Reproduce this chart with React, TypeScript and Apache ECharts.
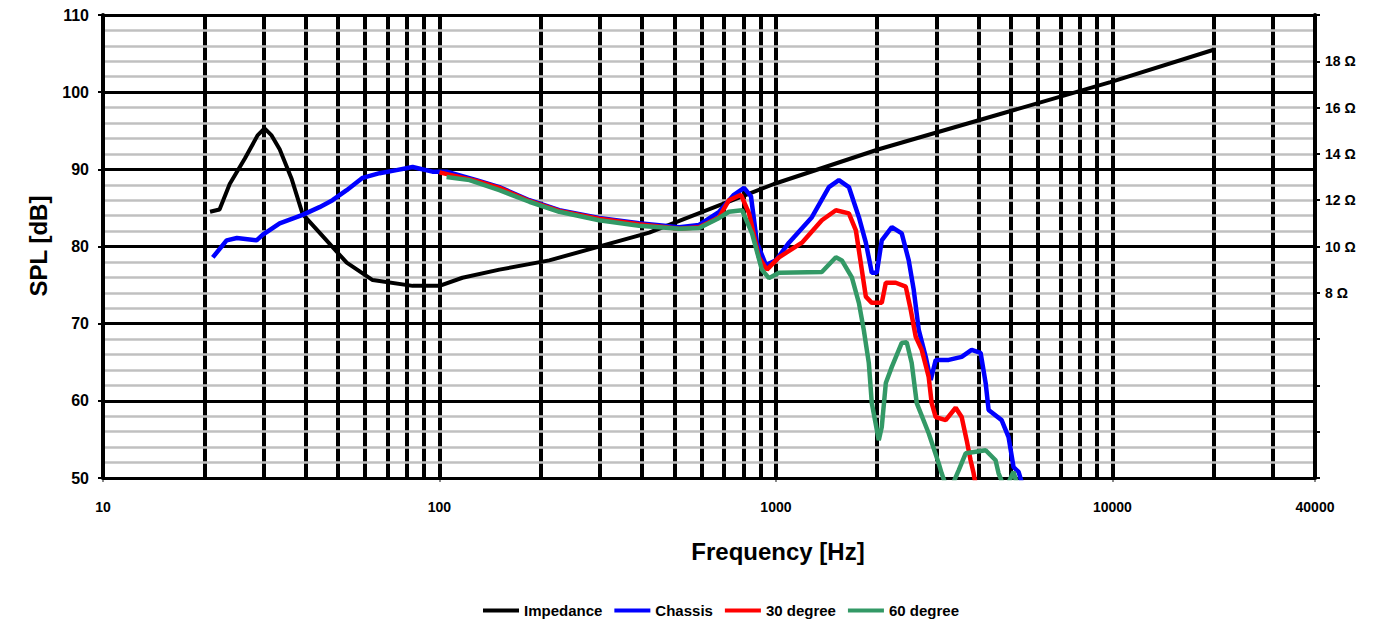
import React, { useEffect, useRef } from "react";
import * as echarts from "echarts";

// ---- data ----
const seriesNames = ["Impedance", "Chassis", "30 degree", "60 degree"];
const seriesColors = ["#000000", "#0000ff", "#ff0000", "#339966"];

const impFreq = [20.8, 22.2, 23.8, 26.4, 28.8, 30.2, 31.7, 33.5, 36.4, 39.2, 44.0, 53.0, 63.3, 83.2, 100, 117, 150.7, 212, 420, 986, 2021, 4588, 9863, 20000];
const impOhm = [11.5, 11.6, 12.7, 13.8, 14.8, 15.1, 14.8, 14.2, 12.9, 11.4, 10.6, 9.3, 8.55, 8.3, 8.3, 8.65, 9.0, 9.4, 10.6, 12.7, 14.2, 15.7, 17.1, 18.5];

const chFreq = [21.2, 23.3, 25.0, 28.6, 29.8, 33.5, 39.2, 44.0, 48.1, 53.0, 59.1, 66.4, 74.5, 83.2, 95.3, 105, 128.8, 150.7, 185, 227, 298, 392, 516, 591, 678, 750, 804, 843, 878, 934, 1000, 1093, 1279, 1437, 1538, 1647, 1764, 1850, 1927, 1994, 2063, 2210, 2365, 2481, 2567, 2657, 2787, 2884, 2984, 3262, 3564, 3815, 4058, 4200, 4286, 4685, 4913, 5083, 5262, 5500];
const chSpl = [78.6, 80.8, 81.1, 80.8, 81.5, 83.0, 84.1, 85.1, 86.0, 87.3, 88.9, 89.5, 89.9, 90.3, 89.7, 89.7, 88.6, 87.7, 86.0, 84.7, 83.7, 83.0, 82.5, 82.8, 84.5, 86.7, 87.6, 86.5, 80.5, 77.6, 78.2, 80.5, 83.8, 87.7, 88.6, 87.7, 83.8, 80.5, 76.6, 76.6, 80.8, 82.5, 81.7, 78.2, 74.4, 69.2, 65.7, 62.7, 65.3, 65.3, 65.7, 66.6, 66.2, 62.3, 58.8, 57.5, 55.3, 51.4, 50.8, 48];

const d30Freq = [100, 128.8, 150.7, 185, 227, 298, 392, 516, 591, 678, 725, 787, 832, 890, 940, 1021, 1195, 1369, 1507, 1647, 1728, 1764, 1850, 1927, 2063, 2121, 2270, 2431, 2515, 2603, 2712, 2844, 2903, 2984, 3195, 3421, 3564, 3688, 3789, 3868, 4000];
const d30Spl = [89.6, 88.5, 87.6, 85.9, 84.6, 83.6, 82.9, 82.3, 82.5, 83.8, 86.0, 86.7, 84.3, 78.6, 77.0, 78.6, 80.5, 83.4, 84.7, 84.3, 82.1, 79.5, 73.5, 72.7, 72.7, 75.3, 75.3, 74.8, 71.8, 68.3, 66.6, 63.1, 59.7, 57.9, 57.5, 59.1, 57.9, 54.9, 52.3, 50.6, 47];

const d60Freq = [105, 122.8, 150.7, 185, 227, 298, 392, 516, 591, 678, 725, 793, 849, 908, 953, 1021, 1369, 1507, 1570, 1681, 1764, 1824, 1888, 1927, 2021, 2063, 2121, 2210, 2365, 2447, 2532, 2621, 2844, 3046, 3108, 3262, 3491, 3663, 4200, 4495, 4588, 4800, 5083, 5300];
const d60Spl = [89.0, 88.6, 87.3, 85.8, 84.5, 83.4, 82.7, 82.3, 82.4, 83.7, 84.5, 84.7, 81.7, 77.0, 75.9, 76.6, 76.7, 78.6, 78.2, 76.0, 72.7, 69.2, 64.9, 59.7, 54.9, 56.6, 62.3, 64.4, 67.5, 67.6, 64.9, 59.7, 55.8, 51.9, 50.6, 48, 51.0, 53.2, 53.6, 52.3, 50.6, 48.5, 50.8, 48];

// vertical grid lines at every log division
const gridFreqs = [20, 30, 40, 50, 60, 70, 80, 90, 100, 200, 300, 400, 500, 600, 700, 800, 900, 1000, 2000, 3000, 4000, 5000, 6000, 7000, 8000, 9000, 10000, 20000, 30000];

const xMin = 10;
const xMax = 40000;
const splMin = 50;
const splMax = 110;
const ohmMin = 0;
const ohmMax = 20;
const ohmLabelled = [8, 10, 12, 14, 16, 18];

const FONT = "'Liberation Sans', Arial, sans-serif";

function zip(xs: number[], ys: number[]) {
  return xs.map((x, i) => [x, ys[i]]);
}

export default function App() {
  const ref = useRef<HTMLDivElement>(null);
  useEffect(() => {
    document.body.style.margin = "0";
    const chart = echarts.init(ref.current!, null, { renderer: "svg" });
    const lineSeries = (idx: number, data: number[][], yAxisIndex: number, width: number) => ({
      name: seriesNames[idx],
      type: "line",
      data,
      yAxisIndex,
      symbol: "none",
      showSymbol: false,
      smooth: false,
      z: 5,
      lineStyle: { color: seriesColors[idx], width },
      itemStyle: { color: seriesColors[idx] },
      clip: true,
    });
    const chassis: any = lineSeries(1, zip(chFreq, chSpl), 0, 4.5);
    chassis.markLine = {
      silent: true,
      z: 1,
      symbol: ["none", "none"],
      label: { show: false },
      lineStyle: { color: "#000", width: 4, type: "solid" },
      emphasis: { disabled: true },
      data: gridFreqs.map((f) => ({ xAxis: f })),
    };
    chart.setOption({
      animation: false,
      backgroundColor: "#ffffff",
      textStyle: { fontFamily: FONT },
      grid: { left: 103, right: 83, top: 15, bottom: 155, containLabel: false },
      legend: {
        data: seriesNames,
        left: 478,
        top: 598,
        icon: "rect",
        itemWidth: 36,
        itemHeight: 4,
        itemGap: 12,
        textStyle: { fontFamily: FONT, fontWeight: "bold", fontSize: 15, color: "#000" },
      },
      xAxis: {
        type: "log",
        logBase: 10,
        min: xMin,
        max: xMax,
        axisLine: { show: true, lineStyle: { color: "#333", width: 3 } },
        axisTick: { show: true, length: 4, lineStyle: { color: "#888", width: 2 } },
        splitLine: { show: true, lineStyle: { color: "#000", width: 4 } },
        axisLabel: {
          margin: 22,
          fontFamily: FONT,
          fontWeight: "bold",
          fontSize: 14,
          color: "#000",
          formatter: (v: number) => String(Math.round(v)),
        },
      },
      yAxis: [
        {
          type: "value",
          min: splMin,
          max: splMax,
          interval: 10,
          z: 3,
          axisLine: { show: true, lineStyle: { color: "#000", width: 4 } },
          axisTick: { show: true, inside: false, length: 5, lineStyle: { color: "#000", width: 2 } },
          axisLabel: { margin: 14, fontFamily: FONT, fontWeight: "bold", fontSize: 16, color: "#000" },
          splitLine: { show: true, lineStyle: { color: "#000", width: 3 } },
          minorTick: { show: false, splitNumber: 5 },
          minorSplitLine: { show: true, lineStyle: { color: "#c0c0c0", width: 2.5 } },
        },
        {
          type: "value",
          position: "right",
          min: ohmMin,
          max: ohmMax,
          interval: 2,
          z: 3,
          axisLine: { show: true, lineStyle: { color: "#000", width: 4 } },
          axisTick: { show: true, inside: false, length: 5, lineStyle: { color: "#000", width: 2 } },
          splitLine: { show: false },
          axisLabel: {
            margin: 10,
            fontFamily: FONT,
            fontWeight: "bold",
            fontSize: 14,
            color: "#000",
            formatter: (v: number) => (ohmLabelled.indexOf(v) >= 0 ? v + " Ω" : ""),
          },
        },
      ],
      graphic: [
        {
          type: "text",
          x: 778,
          y: 551,
          style: {
            text: "Frequency [Hz]",
            font: "bold 24px " + FONT,
            fill: "#000",
            align: "center",
            verticalAlign: "middle",
          },
        },
        {
          type: "text",
          x: 38,
          y: 246,
          rotation: Math.PI / 2,
          style: {
            text: "SPL [dB]",
            font: "bold 24px " + FONT,
            fill: "#000",
            align: "center",
            verticalAlign: "middle",
          },
        },
      ],
      series: [
        lineSeries(0, zip(impFreq, impOhm), 1, 4),
        chassis,
        lineSeries(2, zip(d30Freq, d30Spl), 0, 4.5),
        lineSeries(3, zip(d60Freq, d60Spl), 0, 4.5),
      ],
    });
    return () => chart.dispose();
  }, []);
  return <div ref={ref} style={{ width: 1398, height: 633 }} />;
}
